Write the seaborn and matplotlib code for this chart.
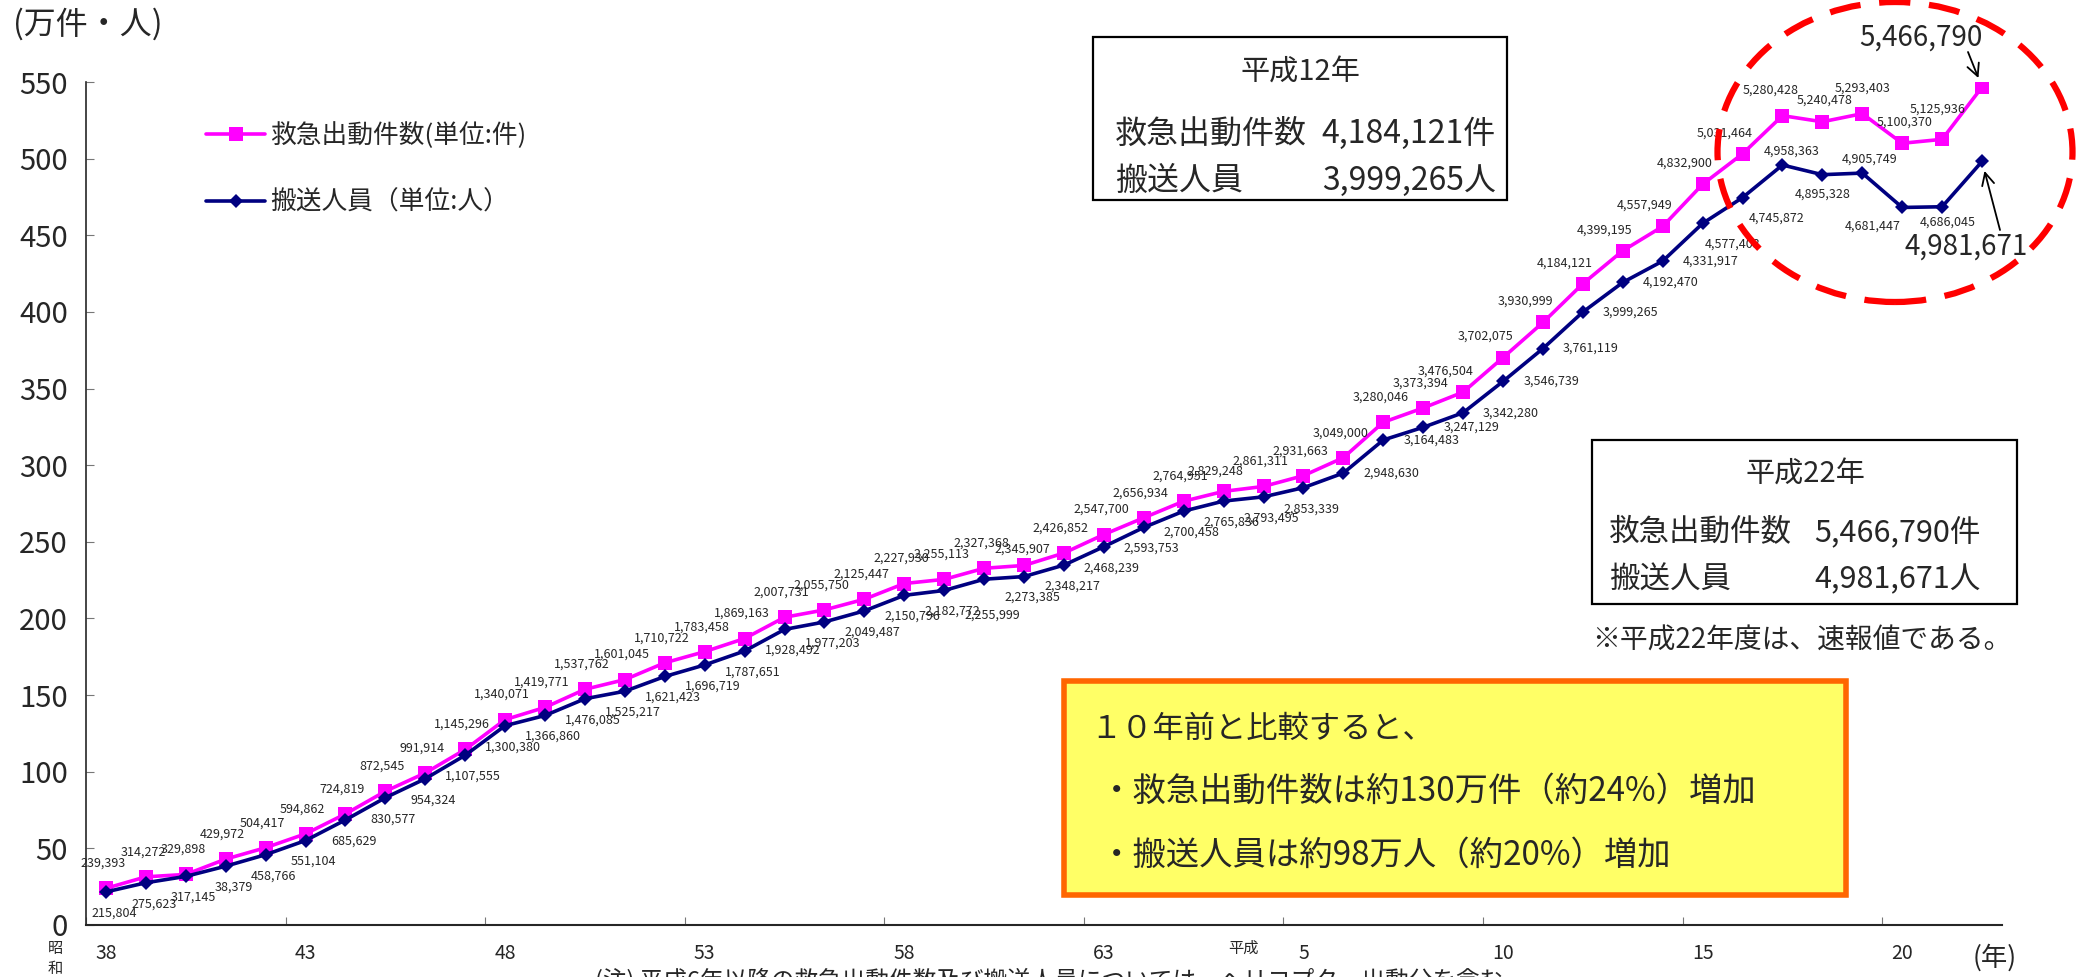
import numpy as np
import seaborn as sns
import matplotlib.pyplot as plt
from matplotlib.patches import Rectangle, Ellipse

# 昭和38年 (1963) - 平成22年 (2010)
calls = [239393, 314272, 329898, 429972, 504417, 594862, 724819, 872545, 991914, 1145296,
         1340071, 1419771, 1537762, 1601045, 1710722, 1783458, 1869163, 2007731, 2055750, 2125447,
         2227930, 2255113, 2327368, 2345907, 2426852, 2547700, 2656934, 2764951, 2829248, 2861311,
         2931663, 3049000, 3280046, 3373394, 3476504, 3702075, 3930999, 4184121, 4399195, 4557949,
         4832900, 5031464, 5280428, 5240478, 5293403, 5100370, 5125936, 5466790]
people = [215804, 275623, 317145, 383790, 458766, 551104, 685629, 830577, 954324, 1107555,
          1300380, 1366860, 1476085, 1525217, 1621423, 1696719, 1787651, 1928492, 1977203, 2049487,
          2150796, 2182772, 2255999, 2273385, 2348217, 2468239, 2593753, 2700458, 2765836, 2793495,
          2853339, 2948630, 3164483, 3247129, 3342280, 3546739, 3761119, 3999265, 4192470, 4331917,
          4577403, 4745872, 4958363, 4895328, 4905749, 4681447, 4686045, 4981671]
people_label_fix = {3: "38,379"}  # label as printed in the source
year_labels = ["38", "43", "48", "53", "58", "63", "5", "10", "15", "20"]

sns.set_style("ticks")
plt.rcParams['font.family'] = ['Noto Sans CJK JP', 'DejaVu Sans']

W, H = 2085, 977
fig = plt.figure(figsize=(W / 100, H / 100), dpi=100)
ax = fig.add_axes([86 / W, 1 - 925 / H, (2002 - 86) / W, (925 - 82) / H])

def fx(px):
    return px / W

def fy(py):
    return 1 - py / H

idx = np.arange(len(calls))
y1 = np.array(calls) / 1e4
y2 = np.array(people) / 1e4

sns.lineplot(x=idx, y=y1, ax=ax, color='#FF00FF', marker='s', markersize=10, linewidth=2.6,
             markeredgewidth=0, label='救急出動件数(単位:件)')
sns.lineplot(x=idx, y=y2, ax=ax, color='#000080', marker='D', markersize=7.5, linewidth=2.6,
             markeredgewidth=0, label='搬送人員（単位:人）')

# data labels
calls_off = {23: (-2, 16), 28: (-8, 20), 42: (-12, 26), 43: (2, 22), 44: (0, 26), 45: (2, 21), 46: (-5, 30)}
for i in range(len(calls) - 1):
    if i in calls_off:
        off = calls_off[i]
    else:
        off = (-3, 25) if i < 34 else (-18, 21)
    ax.annotate(f"{calls[i]:,}", (i, y1[i]), xytext=off, textcoords='offset pixels',
                ha='center', va='center', fontsize=9)
people_off = {22: (8, -36), 40: (30, -21), 41: (34, -21), 42: (9, 14), 43: (0, -19), 44: (7, 14),
              45: (-30, -19), 46: (6, -15)}
for i in range(len(people) - 1):
    if i in people_off:
        off = people_off[i]
    elif i < 31:
        off = (8, -21)
    else:
        off = (48, 0)
    txt = people_label_fix.get(i, f"{people[i]:,}")
    ax.annotate(txt, (i, y2[i]), xytext=off, textcoords='offset pixels',
                ha='center', va='center', fontsize=9)

# big labels for the last year, with open arrows to the points
fig.text(fx(1921), fy(38), f"{calls[-1]:,}", fontsize=20, ha='center', va='center')
ax.annotate('', (47, y1[-1]), xytext=(1968, H - 52), textcoords='figure pixels',
            arrowprops=dict(arrowstyle='->', color='black', lw=1.3, shrinkA=0, shrinkB=7,
                            mutation_scale=22))
fig.text(fx(1966), fy(247), f"{people[-1]:,}", fontsize=20, ha='center', va='center')
ax.annotate('', (47, y2[-1]), xytext=(2000, H - 230), textcoords='figure pixels',
            arrowprops=dict(arrowstyle='->', color='black', lw=1.3, shrinkA=0, shrinkB=7,
                            mutation_scale=22))

ax.set_xlim(-0.5, 47.5)
ax.set_ylim(0, 550)
ax.set_yticks(np.arange(0, 551, 50))
ax.tick_params(axis='y', direction='in', length=6, color='#777777', labelsize=21, pad=13)
ax.set_xticks(np.arange(-0.5, 48, 5))
ax.set_xticklabels([])
ax.set_xticks(np.arange(0, 48, 5), minor=True)
ax.set_xticklabels(year_labels, minor=True)
ax.tick_params(axis='x', which='major', direction='in', length=6, color='#777777')
ax.tick_params(axis='x', which='minor', length=0, labelsize=14, pad=13)
ax.set_xlabel('')
ax.set_ylabel('')
sns.despine(ax=ax)
ax.spines['left'].set_linewidth(1.2)
ax.spines['bottom'].set_linewidth(1.5)

ax.legend(loc='upper left', bbox_to_anchor=(fx(206), fy(122)), bbox_transform=fig.transFigure,
          frameon=False, fontsize=18.5, handlelength=2.3, handletextpad=0.2,
          labelspacing=1.6, borderpad=0, borderaxespad=0)

fig.text(fx(13), fy(24), '(万件・人)', fontsize=23, ha='left', va='center')
fig.text(fx(55), fy(948), '昭', fontsize=11, ha='center', va='center')
fig.text(fx(55), fy(969), '和', fontsize=11, ha='center', va='center')
fig.text(fx(1243), fy(948), '平成', fontsize=11, ha='center', va='center')
fig.text(fx(1995), fy(958), '(年)', fontsize=19, ha='center', va='center')

# info box 平成12年
fig.patches.append(Rectangle((fx(1093), fy(200)), fx(1507) - fx(1093), fy(37) - fy(200),
                             transform=fig.transFigure, fill=False, edgecolor='black', linewidth=1.6))
fig.text(fx(1300), fy(73), '平成12年', fontsize=21, ha='center', va='center')
fig.text(fx(1115), fy(134), '救急出動件数', fontsize=23, ha='left', va='center')
fig.text(fx(1496), fy(134), '4,184,121件', fontsize=23, ha='right', va='center')
fig.text(fx(1115), fy(181), '搬送人員', fontsize=23, ha='left', va='center')
fig.text(fx(1496), fy(181), '3,999,265人', fontsize=23, ha='right', va='center')

# info box 平成22年
fig.patches.append(Rectangle((fx(1592), fy(604)), fx(2017) - fx(1592), fy(440) - fy(604),
                             transform=fig.transFigure, fill=False, edgecolor='black', linewidth=1.6))
fig.text(fx(1805), fy(475), '平成22年', fontsize=21, ha='center', va='center')
fig.text(fx(1609), fy(533), '救急出動件数', fontsize=22, ha='left', va='center')
fig.text(fx(1981), fy(533), '5,466,790件', fontsize=22, ha='right', va='center')
fig.text(fx(1609), fy(580), '搬送人員', fontsize=22, ha='left', va='center')
fig.text(fx(1981), fy(580), '4,981,671人', fontsize=22, ha='right', va='center')
fig.text(fx(1592), fy(641), '※平成22年度は、速報値である。', fontsize=20, ha='left', va='center')

# yellow comment box
fig.patches.append(Rectangle((fx(1064), fy(895)), fx(1846) - fx(1064), fy(681) - fy(895),
                             transform=fig.transFigure, facecolor='#FFFF66', edgecolor='#FF6600',
                             linewidth=4, zorder=5))
fig.text(fx(1090), fy(729), '１０年前と比較すると、', fontsize=22.5, ha='left', va='center', zorder=6)
fig.text(fx(1100), fy(791), '・救急出動件数は約130万件（約24%）増加', fontsize=24, ha='left',
         va='center', zorder=6)
fig.text(fx(1100), fy(855), '・搬送人員は約98万人（約20%）増加', fontsize=24, ha='left',
         va='center', zorder=6)

# red dashed ellipse
fig.patches.append(Ellipse((fx(1895), fy(152)), 355 / W, 300 / H, transform=fig.transFigure,
                           fill=False, edgecolor='#FF0000', linewidth=4.5, linestyle=(0, (5, 3))))

# note at the bottom (cut off in the original)
fig.text(fx(595), fy(968), '(注) 平成6年以降の救急出動件数及び搬送人員については、ヘリコプター出動分を含む。',
         fontsize=17, ha='left', va='top')

plt.savefig('out.png', dpi=100)
